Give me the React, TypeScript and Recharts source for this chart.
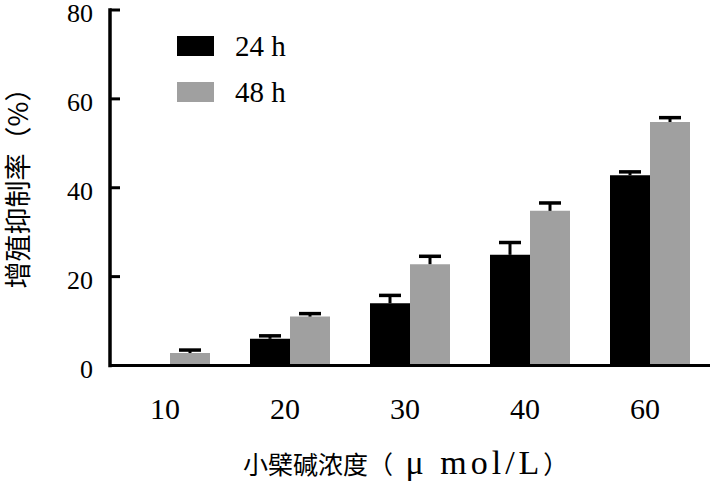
import React from 'react';
import { BarChart, Bar, XAxis, YAxis, Legend } from 'recharts';

const categories = ['10', '20', '30', '40', '60'];
const values24h = [0, 6.0, 14.0, 24.9, 42.8];
const errors24h = [0, 0.9, 2.0, 3.0, 1.0];
const values48h = [2.8, 11.0, 22.8, 34.8, 54.8];
const errors48h = [0.9, 0.9, 2.0, 2.0, 1.2];
const yTicks = [0, 20, 40, 60, 80];
const seriesNames = ['24 h', '48 h'];
const seriesColors = ['#000000', '#a0a0a0'];
const xTitleCjk = '小檗碱浓度（';
const xTitleLatin = ' μ mol/L';
const xTitleEnd = '）';
const yTitle = '增殖抑制率（%）';

const data = categories.map((c, i) => ({
  cat: c,
  h24: values24h[i],
  e24: errors24h[i],
  h48: values48h[i],
  e48: errors48h[i],
}));

const SERIF = 'Liberation Serif';
const CJK = "'Noto Sans CJK SC', sans-serif";
const serifStyle = { fontFamily: SERIF };
const cjkStyle = { fontFamily: CJK };

const ErrShape = (props: any) => {
  const { x, y, width, height } = props;
  if (!height || height <= 0) return null;
  const cx = x + width / 2;
  return (
    <g>
      <line x1={cx} x2={cx} y1={y + height} y2={y} stroke="#000" strokeWidth={3} />
      <line x1={cx - 11} x2={cx + 11} y1={y + 1} y2={y + 1} stroke="#000" strokeWidth={3.5} />
    </g>
  );
};

const LegendContent = () => (
  <svg width={320} height={110} style={{ display: 'block', overflow: 'visible' }}>
    {seriesNames.map((n, i) => (
      <g key={n}>
        <rect x={177} y={36 + i * 46} width={37} height={20} fill={seriesColors[i]} />
        <text x={235} y={56 + i * 46} fontFamily={SERIF} style={serifStyle} fontSize={29} fill="#000">
          {n}
        </text>
      </g>
    ))}
  </svg>
);

export default function App() {
  return (
    <div
      style={{
        position: 'absolute',
        left: 0,
        top: 0,
        width: 710,
        height: 484,
        background: '#fff',
        fontFamily: SERIF,
      }}
    >
      <BarChart
        width={710}
        height={484}
        data={data}
        margin={{ top: 10, right: 0, bottom: 58.5, left: 0 }}
        barCategoryGap={20}
        barGap={0}
        style={{ fontFamily: SERIF }}
      >
        <XAxis
          dataKey="cat"
          height={60}
          tickSize={0}
          tickMargin={32.5}
          tickLine={false}
          axisLine={{ stroke: '#000', strokeWidth: 3 }}
          tick={{ fontFamily: SERIF, fontSize: 30, fill: '#000', dx: -5 }}
          interval={0}
        />
        <YAxis
          width={110}
          domain={[0, 80]}
          ticks={yTicks}
          tickSize={-10}
          tickMargin={27}
          tickLine={{ stroke: '#000', strokeWidth: 3 }}
          axisLine={{ stroke: '#000', strokeWidth: 3.5, strokeLinecap: 'square' }}
          tick={{ fontFamily: SERIF, fontSize: 26, fill: '#000', dy: 3 }}
          interval={0}
        />
        <Legend
          content={<LegendContent />}
          layout="horizontal"
          verticalAlign="middle"
          align="center"
          wrapperStyle={{ position: 'absolute', left: 0, top: 0, width: 320, height: 110 }}
        />
        <Bar dataKey="h24" name={seriesNames[0]} stackId="a" fill={seriesColors[0]} isAnimationActive={false} />
        <Bar dataKey="e24" stackId="a" fill="none" legendType="none" shape={<ErrShape />} isAnimationActive={false} />
        <Bar dataKey="h48" name={seriesNames[1]} stackId="b" fill={seriesColors[1]} isAnimationActive={false} />
        <Bar dataKey="e48" stackId="b" fill="none" legendType="none" shape={<ErrShape />} isAnimationActive={false} />
      </BarChart>
      <svg
        width={710}
        height={484}
        style={{ position: 'absolute', left: 0, top: 0, pointerEvents: 'none' }}
      >
        <text x={243} y={474} fontFamily={CJK} style={cjkStyle} fontSize={25} fill="#000">
          {xTitleCjk}
          <tspan fontFamily={SERIF} style={serifStyle} fontSize={34} letterSpacing={4}>
            {xTitleLatin}
          </tspan>
          {xTitleEnd}
        </text>
        <text
          transform="translate(16.5,181.5) rotate(-90)"
          textAnchor="middle"
          dominantBaseline="central"
          fontFamily={CJK}
          style={cjkStyle}
          fontSize={27}
          fill="#000"
        >
          {yTitle}
        </text>
      </svg>
    </div>
  );
}
